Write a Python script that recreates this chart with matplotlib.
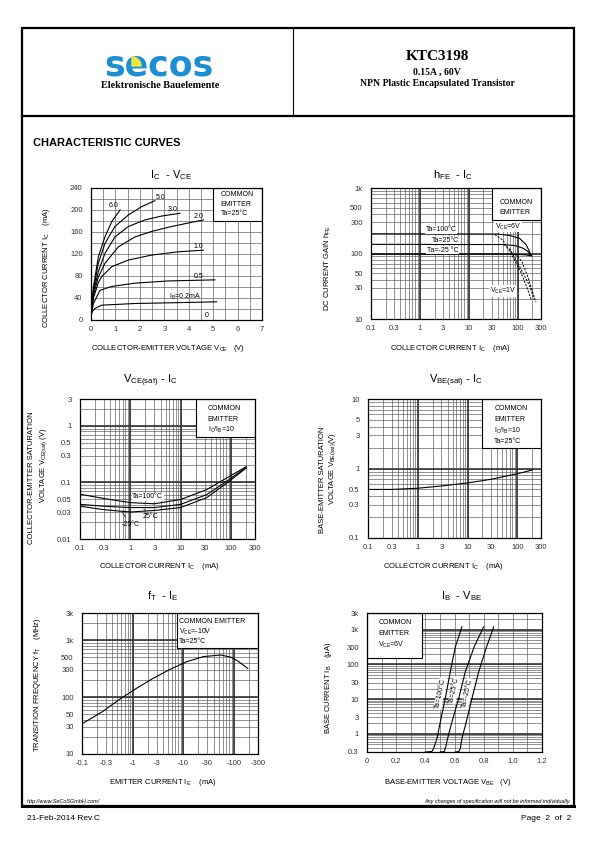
import numpy as np
import matplotlib.pyplot as plt
from matplotlib.patches import Rectangle, Wedge
from matplotlib.ticker import (FixedLocator, FixedFormatter, LogLocator,
                               MultipleLocator, NullFormatter)

W, H = 595, 842
SANS = ['Liberation Sans Narrow', 'Liberation Sans', 'DejaVu Sans']
SERIF = ['Liberation Serif', 'DejaVu Serif']
plt.rcParams['font.family'] = SANS

# ---- IC - VCE (IB in mA) ----
vce_6 = [0, 0.1, 0.3, 0.57, 0.85, 1.19]
ic_6 = [8, 60, 115, 151, 179, 200]
vce_5 = [0, 0.1, 0.3, 0.57, 0.98, 1.53, 2.07, 2.62]
ic_5 = [8, 55, 103, 139, 170, 191, 206, 217]
vce_3 = [0, 0.1, 0.3, 0.57, 0.98, 1.53, 2.21, 2.89, 3.64]
ic_3 = [8, 50, 88, 121, 151, 170, 182, 189, 194]
vce_2 = [0, 0.1, 0.3, 0.57, 1.12, 1.8, 2.48, 3.3, 4.6]
ic_2 = [8, 45, 78, 103, 133, 151, 161, 170, 182]
vce_1 = [0, 0.1, 0.3, 0.44, 0.85, 1.53, 2.48, 3.57, 4.6]
ic_1 = [8, 40, 68, 79, 97, 109, 118, 124, 127]
vce_05 = [0, 0.1, 0.37, 0.85, 1.8, 3.16, 5.07]
ic_05 = [8, 30, 54, 61, 67, 71, 73]
vce_02 = [0, 0.05, 0.16, 0.44, 1.8, 5.14]
ic_02 = [8, 15, 21, 27, 30, 33]
ivc_labels = ['6.0', '5.0', '3.0', '2.0', '1.0', '0.5', 'I$_\\mathregular{B}$=0.2mA', '0']
ivc_label_v = [0.91, 2.85, 3.33, 4.39, 4.39, 4.39, 3.85, 4.73]
ivc_label_i = [209, 223, 201, 188, 133, 79, 42, 9]

# ---- hFE - IC ----
hfe_ic_100 = [0.1, 40, 70, 110, 150, 190]
hfe_6v_100 = [200, 198, 188, 170, 135, 93]
hfe_ic_25 = [0.1, 50, 90, 130, 160, 190]
hfe_6v_25 = [138, 137, 132, 120, 108, 93]
hfe_ic_m25 = [0.1, 60, 100, 150, 190]
hfe_6v_m25 = [98, 98, 97, 95, 92]
hfe1_ic_100 = [34, 50, 70, 111, 153, 190]
hfe_1v_100 = [195, 160, 106, 56, 31, 19.5]
hfe1_ic_25 = [51, 70, 88, 130, 179, 215]
hfe_1v_25 = [138, 115, 85, 50, 31, 20]
hfe1_ic_m25 = [88, 100, 122, 165, 205, 236]
hfe_1v_m25 = [98, 90, 75, 42, 25, 18]

# ---- VCE(sat) - IC ----
vsat_ic = [0.1, 0.3, 1, 3, 10, 33, 82, 200]
vsat_100 = [0.062, 0.052, 0.044, 0.042, 0.05, 0.075, 0.12, 0.19]
vsat_25 = [0.041, 0.038, 0.036, 0.036, 0.041, 0.061, 0.105, 0.185]
vsat_m25 = [0.038, 0.033, 0.030, 0.032, 0.036, 0.054, 0.097, 0.18]

# ---- VBE(sat) - IC ----
vbe_ic = [0.1, 0.3, 1, 3, 10, 30, 100, 200]
vbe_sat = [0.5, 0.5, 0.52, 0.56, 0.62, 0.70, 0.84, 0.95]

# ---- fT - IE (magnitude of IE) ----
ft_ie = [0.1, 0.25, 0.54, 1.17, 2.5, 5.5, 11.8, 25, 55, 87, 120, 188]
ft_mhz = [34, 55, 90, 141, 212, 307, 419, 514, 549, 503, 430, 319]

# ---- IB - VBE ----
ib_uA = [0.3, 0.31, 0.38, 0.74, 2.24, 10.5, 61, 320, 1200]
vbe_100 = [0.40, 0.445, 0.457, 0.48, 0.503, 0.537, 0.571, 0.606, 0.651]
vbe_25 = [0.503, 0.53, 0.537, 0.553, 0.583, 0.629, 0.674, 0.735, 0.80]
vbe_m25 = [0.606, 0.63, 0.64, 0.651, 0.681, 0.72, 0.766, 0.82, 0.869]

log_ic_ticks = [0.1, 0.3, 1, 3, 10, 30, 100, 300]
log_ic_labels = ['0.1', '0.3', '1', '3', '10', '30', '100', '300']

fig = plt.figure(figsize=(W / 100, H / 100), dpi=100)
pg = fig.add_axes([0, 0, 1, 1])
pg.set_xlim(0, W)
pg.set_ylim(H, 0)
pg.axis('off')

# page frame
pg.add_patch(Rectangle((22, 28), 552, 778, fill=False, lw=1.6, color='k'))
pg.plot([22, 574], [116, 116], color='k', lw=1.6)
pg.plot([293, 293], [28, 116], color='k', lw=0.8)
pg.plot([22, 574], [806, 806], color='k', lw=2.2)

# header
pg.text(159, 66, 'secos', fontsize=25, fontweight='heavy', color='#1c8fd2',
        family='DejaVu Sans', ha='center', va='center', zorder=2)
pg.add_patch(Wedge((132, 66), 9, 270, 360, color='#f2e63c', zorder=3))
pg.text(160, 86, 'Elektronische Bauelemente', fontsize=7.3, fontweight='bold',
        family=SERIF, ha='center', va='center')
pg.text(437, 57, 'KTC3198', fontsize=11, fontweight='bold', family=SERIF,
        ha='center', va='center')
pg.text(437, 72, '0.15A , 60V', fontsize=7, fontweight='bold', family=SERIF,
        ha='center', va='center')
pg.text(437, 84, 'NPN Plastic Encapsulated Transistor', fontsize=7, fontweight='bold',
        family=SERIF, ha='center', va='center')
pg.text(33, 143, 'CHARACTERISTIC CURVES', fontsize=8, fontweight='bold',
        family=['Liberation Sans', 'DejaVu Sans'], va='center')

# footer
pg.text(27, 802, 'http://www.SeCoSGmbH.com/', fontsize=4, style='italic', va='center')
pg.text(571, 802, 'Any changes of specification will not be informed individually.',
        fontsize=4, style='italic', va='center', ha='right')
pg.text(27, 818, '21-Feb-2014 Rev.C', fontsize=6, va='center',
        family=['Liberation Sans', 'DejaVu Sans'])
pg.text(571, 818, 'Page  2  of  2', fontsize=6, va='center', ha='right',
        family=['Liberation Sans', 'DejaVu Sans'])


def chart(x0, y0, x1, y1):
    ax = fig.add_axes([x0 / W, 1 - y1 / H, (x1 - x0) / W, (y1 - y0) / H])
    ax.set_axisbelow(True)
    ax.tick_params(which='both', length=0, labelsize=5.5, labelcolor='#333333')
    ax.tick_params(axis='x', pad=4)
    ax.tick_params(axis='y', pad=6)
    for s in ax.spines.values():
        s.set_linewidth(0.9)
    return ax


def log_axis(ax, which, lo, hi, ticks, labels):
    axis = ax.xaxis if which == 'x' else ax.yaxis
    if which == 'x':
        ax.set_xscale('log')
        ax.set_xlim(lo, hi)
    else:
        ax.set_yscale('log')
        ax.set_ylim(lo, hi)
    axis.set_major_locator(FixedLocator(ticks))
    axis.set_major_formatter(FixedFormatter(labels))
    axis.set_minor_locator(LogLocator(base=10, subs=np.arange(1, 10), numticks=100))
    axis.set_minor_formatter(NullFormatter())
    ax.grid(True, which='both', axis=which, color='#555555', lw=0.45)
    for e in range(int(np.floor(np.log10(lo))), int(np.ceil(np.log10(hi))) + 1):
        d = 10.0 ** e
        if lo < d < hi:
            if which == 'x':
                ax.axvline(d, color='#333333', lw=1.2, zorder=0.6)
            else:
                ax.axhline(d, color='#333333', lw=1.2, zorder=0.6)


def title(x, y, s):
    pg.text(x, y, s, fontsize=8, ha='center', va='center')


def xlab(x, y, s):
    pg.text(x, y, s, fontsize=5.5, ha='center', va='center')


def ylab(x, y, s):
    pg.text(x, y, s, fontsize=5.5, ha='center', va='center', rotation=90)


LW = 0.8
wb = dict(facecolor='white', edgecolor='none', pad=0.4)

# ================= 1. IC - VCE =================
ax = chart(91, 188, 262, 320)
ax.set_xlim(0, 7)
ax.set_ylim(0, 240)
ax.xaxis.set_major_locator(FixedLocator(range(8)))
ax.xaxis.set_minor_locator(MultipleLocator(0.5))
ax.yaxis.set_major_locator(FixedLocator(range(0, 241, 40)))
ax.yaxis.set_minor_locator(MultipleLocator(20))
ax.grid(True, which='both', color='#555555', lw=0.45)
for v, i in [(vce_6, ic_6), (vce_5, ic_5), (vce_3, ic_3), (vce_2, ic_2),
             (vce_1, ic_1), (vce_05, ic_05), (vce_02, ic_02)]:
    ax.plot(v, i, color='k', lw=LW, zorder=2)
for s, v, i in zip(ivc_labels, ivc_label_v, ivc_label_i):
    ax.text(v, i, s, fontsize=5, ha='center', va='center', zorder=3)
ax.add_patch(Rectangle((5, 180), 2, 60, facecolor='white', edgecolor='k', lw=0.8, zorder=1))
for k, s in enumerate(['COMMON', 'EMITTER', 'Ta=25\u00b0C']):
    ax.text(5.3, 228 - k * 17.5, s, fontsize=5, va='center', zorder=3)
title(171, 175, 'I$_\\mathregular{C}$  - V$_\\mathregular{CE}$')
xlab(168, 348, 'COLLECTOR-EMITTER VOLTAGE V$_\\mathregular{CE}$   (V)')
ylab(47, 268, 'COLLECTOR CURRENT I$_\\mathregular{C}$    (mA)')

# ================= 2. hFE - IC =================
ax = chart(371, 188, 541, 319)
log_axis(ax, 'x', 0.1, 300, log_ic_ticks, log_ic_labels)
log_axis(ax, 'y', 10, 1000, [10, 30, 50, 100, 300, 500, 1000],
         ['10', '30', '50', '100', '300', '500', '1k'])
ax.add_patch(Rectangle((30, 330), 270, 670, facecolor='white', edgecolor='k', lw=0.8, zorder=1))
ax.text(42, 610, 'COMMON', fontsize=5, va='center', zorder=3)
ax.text(42, 420, 'EMITTER', fontsize=5, va='center', zorder=3)
for x, y in [(hfe_ic_100, hfe_6v_100), (hfe_ic_25, hfe_6v_25), (hfe_ic_m25, hfe_6v_m25)]:
    ax.plot(x, y, color='k', lw=LW, zorder=2)
for x, y in [(hfe1_ic_100, hfe_1v_100), (hfe1_ic_25, hfe_1v_25), (hfe1_ic_m25, hfe_1v_m25)]:
    ax.plot(x, y, color='k', lw=0.7, ls=(0, (2.2, 1.4)), zorder=2)
ax.text(2.7, 230, 'Ta=100\u00b0C', fontsize=5, ha='center', va='center', zorder=3, bbox=wb)
ax.text(3.4, 160, 'Ta=25\u00b0C', fontsize=5, ha='center', va='center', zorder=3, bbox=wb)
ax.text(2.9, 113, 'Ta=-25 \u00b0C', fontsize=5, ha='center', va='center', zorder=3, bbox=wb)
ax.text(64, 257, 'V$_\\mathregular{CE}$=6V', fontsize=5, ha='center', va='center', zorder=3, bbox=wb)
ax.text(50, 26.7, 'V$_\\mathregular{CE}$=1V', fontsize=5, ha='center', va='center', zorder=3, bbox=wb)
title(453, 175, 'h$_\\mathregular{FE}$  - I$_\\mathregular{C}$')
xlab(450, 348, 'COLLECTOR CURRENT I$_\\mathregular{C}$    (mA)')
ylab(328, 268, 'DC CURRENT GAIN h$_\\mathregular{FE}$')

# ================= 3. VCE(sat) - IC =================
ax = chart(80, 399, 255, 539)
log_axis(ax, 'x', 0.1, 300, log_ic_ticks, log_ic_labels)
log_axis(ax, 'y', 0.01, 3, [0.01, 0.03, 0.05, 0.1, 0.3, 0.5, 1, 3],
         ['0.01', '0.03', '0.05', '0.1', '0.3', '0.5', '1', '3'])
ax.add_patch(Rectangle((20, 0.65), 280, 2.35, facecolor='white', edgecolor='k', lw=0.8, zorder=1))
for k, s in enumerate(['COMMON', 'EMITTER', 'I$_\\mathregular{C}$/I$_\\mathregular{B}$=10']):
    ax.text(0.73, 0.93 - k * 0.075, s, fontsize=5, va='center', transform=ax.transAxes, zorder=3)
for y in [vsat_100, vsat_25, vsat_m25]:
    ax.plot(vsat_ic, y, color='k', lw=LW, zorder=2)
ax.text(2.2, 0.0557, 'Ta=100\u00b0C', fontsize=5, ha='center', va='center', zorder=3, bbox=wb)
ax.annotate('25\u00b0C', xy=(1.85, 0.034), xytext=(2.5, 0.0253), fontsize=5,
            ha='center', va='center', zorder=3,
            arrowprops=dict(arrowstyle='-', lw=0.5, shrinkA=1, shrinkB=0))
ax.annotate('-25\u00b0C', xy=(0.7, 0.029), xytext=(1.0, 0.018), fontsize=5,
            ha='center', va='center', zorder=3,
            arrowprops=dict(arrowstyle='-', lw=0.5, shrinkA=1, shrinkB=0))
title(150, 381, 'V$_\\mathregular{CE(sat)}$ - I$_\\mathregular{C}$')
xlab(159, 567, 'COLLECTOR CURRENT I$_\\mathregular{C}$    (mA)')
ylab(32, 478, 'COLLECTOR-EMITTER SATURATION')
ylab(44, 465, 'VOLTAGE V$_\\mathregular{CE(sat)}$ (V)')

# ================= 4. VBE(sat) - IC =================
ax = chart(368, 399, 541, 538)
log_axis(ax, 'x', 0.1, 300, log_ic_ticks, log_ic_labels)
log_axis(ax, 'y', 0.1, 10, [0.1, 0.3, 0.5, 1, 3, 5, 10],
         ['0.1', '0.3', '0.5', '1', '3', '5', '10'])
ax.add_patch(Rectangle((20, 2), 280, 8, facecolor='white', edgecolor='k', lw=0.8, zorder=1))
for k, s in enumerate(['COMMON', 'EMITTER', 'I$_\\mathregular{C}$/I$_\\mathregular{B}$=10',
                       'Ta=25\u00b0C']):
    ax.text(0.73, 0.93 - k * 0.078, s, fontsize=5, va='center', transform=ax.transAxes, zorder=3)
ax.plot(vbe_ic, vbe_sat, color='k', lw=LW, zorder=2)
title(456, 381, 'V$_\\mathregular{BE(sat)}$ - I$_\\mathregular{C}$')
xlab(443, 567, 'COLLECTOR CURRENT I$_\\mathregular{C}$    (mA)')
ylab(322, 480, 'BASE-EMITTER SATURATION')
ylab(333, 468, 'VOLTAGE V$_\\mathregular{BE(sat)}$(V)')

# ================= 5. fT - IE =================
ax = chart(82, 613, 258, 754)
log_axis(ax, 'x', 0.1, 300, log_ic_ticks, ['-' + s for s in log_ic_labels])
log_axis(ax, 'y', 10, 3000, [10, 30, 50, 100, 300, 500, 1000, 3000],
         ['10', '30', '50', '100', '300', '500', '1k', '3k'])
ax.add_patch(Rectangle((7.5, 720), 292.5, 2280, facecolor='white', edgecolor='k', lw=0.8, zorder=1))
for k, s in enumerate(['COMMON EMITTER', 'V$_\\mathregular{CE}$=-10V', 'Ta=25\u00b0C']):
    ax.text(0.55, 0.94 - k * 0.072, s, fontsize=5, va='center', transform=ax.transAxes, zorder=3)
ax.plot(ft_ie, ft_mhz, color='k', lw=LW, zorder=2)
title(163, 596, 'f$_\\mathregular{T}$  - I$_\\mathregular{E}$')
xlab(163, 782, 'EMITTER CURRENT I$_\\mathregular{E}$    (mA)')
ylab(38, 685, 'TRANSITION FREQUENCY f$_\\mathregular{T}$    (MHz)')

# ================= 6. IB - VBE =================
ax = chart(367, 613, 542, 752)
ax.set_xlim(0, 1.2)
ax.xaxis.set_major_locator(FixedLocator([0, 0.2, 0.4, 0.6, 0.8, 1.0, 1.2]))
ax.xaxis.set_major_formatter(FixedFormatter(['0', '0.2', '0.4', '0.6', '0.8', '1.0', '1.2']))
ax.xaxis.set_minor_locator(MultipleLocator(0.1))
ax.grid(True, which='both', axis='x', color='#555555', lw=0.45)
log_axis(ax, 'y', 0.3, 3000, [0.3, 1, 3, 10, 30, 100, 300, 1000, 3000],
         ['0.3', '1', '3', '10', '30', '100', '300', '1k', '3k'])
ax.add_patch(Rectangle((0, 150), 0.375, 2850, facecolor='white', edgecolor='k', lw=0.8, zorder=1))
for k, s in enumerate(['COMMON', 'EMITTER', 'V$_\\mathregular{CE}$=6V']):
    ax.text(0.065, 0.93 - k * 0.08, s, fontsize=5, va='center', transform=ax.transAxes, zorder=3)
for v in [vbe_100, vbe_25, vbe_m25]:
    ax.plot(v, ib_uA, color='k', lw=LW, zorder=2)
for s, v, i in [('Ta=100\u00b0C', 0.503, 14.6), ('Ta=25\u00b0C', 0.60, 18),
                ('Ta=-25\u00b0C', 0.69, 14.6)]:
    ax.text(v, i, s, fontsize=5, rotation=78, ha='center', va='center', zorder=3,
            bbox=dict(facecolor='white', edgecolor='none', pad=0.3))
title(462, 596, 'I$_\\mathregular{B}$  - V$_\\mathregular{BE}$')
xlab(448, 782, 'BASE-EMITTER VOLTAGE V$_\\mathregular{BE}$   (V)')
ylab(328, 688, 'BASE CURRENT I$_\\mathregular{B}$    (\u03bcA)')

fig.savefig('out.png', dpi=100)
